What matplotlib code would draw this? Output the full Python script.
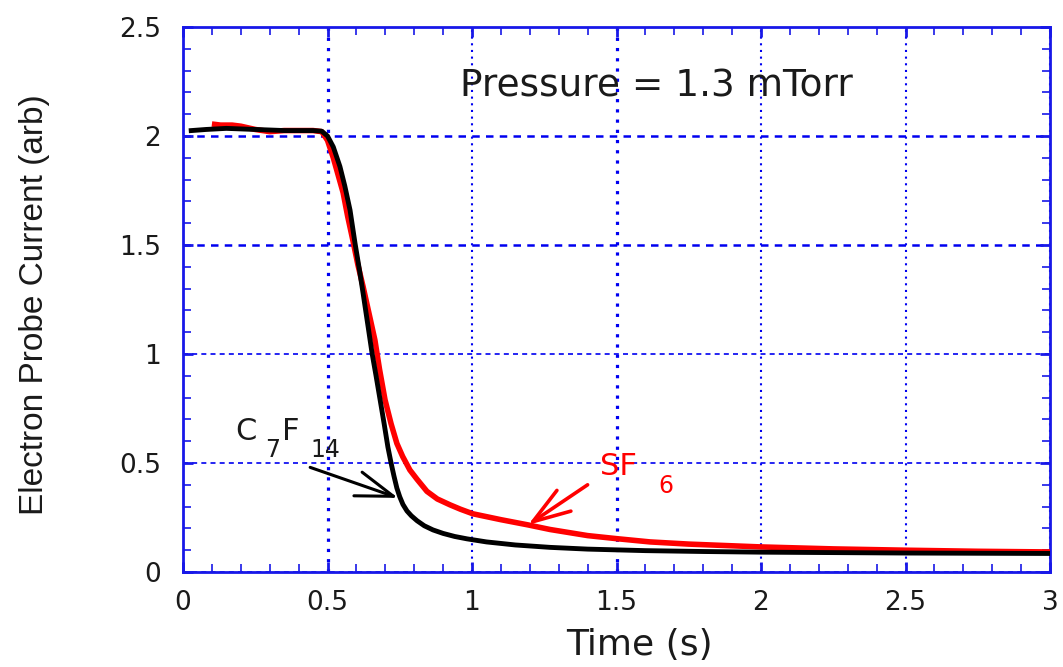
import matplotlib
matplotlib.use('Agg')
import matplotlib.pyplot as plt
from matplotlib import font_manager
from matplotlib.ticker import MultipleLocator, FixedLocator, FixedFormatter

# ---------------- data ----------------
t_c7f14 = [0.02, 0.08, 0.15, 0.25, 0.35, 0.45, 0.48, 0.50, 0.52, 0.543, 0.56,
           0.578, 0.595, 0.61, 0.623, 0.64, 0.654, 0.668, 0.682, 0.696, 0.709,
           0.72, 0.73, 0.74, 0.75, 0.761, 0.775, 0.79, 0.81, 0.835, 0.865,
           0.90, 0.94, 0.983, 1.05, 1.15, 1.27, 1.4, 1.6, 1.8, 2.0, 2.5, 3.0]
i_c7f14 = [2.024, 2.03, 2.035, 2.03, 2.025, 2.025, 2.022, 2.0, 1.95, 1.86, 1.77,
           1.66, 1.51, 1.39, 1.28, 1.13, 1.005, 0.90, 0.79, 0.68, 0.573,
           0.50, 0.44, 0.385, 0.345, 0.31, 0.28, 0.258, 0.235, 0.212, 0.193,
           0.177, 0.163, 0.152, 0.138, 0.124, 0.113, 0.105, 0.098, 0.094, 0.091,
           0.087, 0.085]

t_sf6 = [0.10, 0.13, 0.17, 0.20, 0.25, 0.30, 0.35, 0.40, 0.45, 0.48, 0.50,
         0.52, 0.537, 0.554, 0.57, 0.588, 0.605, 0.623, 0.643, 0.664, 0.68,
         0.699, 0.72, 0.74, 0.76, 0.785, 0.81, 0.844, 0.88, 0.924, 0.96,
         1.003, 1.1, 1.194, 1.27, 1.4, 1.5, 1.616, 1.75, 2.0, 2.25, 2.5,
         2.75, 3.0]
i_sf6 = [2.055, 2.05, 2.05, 2.045, 2.03, 2.02, 2.025, 2.025, 2.025, 2.02, 1.98,
         1.90, 1.82, 1.74, 1.63, 1.52, 1.41, 1.31, 1.19, 1.064, 0.93,
         0.79, 0.68, 0.59, 0.53, 0.468, 0.425, 0.37, 0.335, 0.308, 0.288,
         0.267, 0.24, 0.216, 0.195, 0.167, 0.153, 0.138, 0.128, 0.115, 0.106,
         0.10, 0.095, 0.092]

x_ticks = [0, 0.5, 1, 1.5, 2, 2.5, 3]
x_tick_labels = ['0', '0.5', '1', '1.5', '2', '2.5', '3']
y_ticks = [0, 0.5, 1, 1.5, 2, 2.5]
y_tick_labels = ['0', '0.5', '1', '1.5', '2', '2.5']

x_label = 'Time (s)'
y_label = 'Electron Probe Current (arb)'
title_note = 'Pressure = 1.3 mTorr'

# ---------------- style ----------------
names = {f.name for f in font_manager.fontManager.ttflist}
if 'Liberation Sans Narrow' in names:
    ylab_family, ylab_size = 'Liberation Sans Narrow', 29
else:
    ylab_family, ylab_size = 'Liberation Sans', 24

plt.rcParams['font.family'] = ['DejaVu Sans']
blue = '#1818e8'
grid_blue = '#0000f0'
txt = '#1a1a1a'

fig = plt.figure(figsize=(10.63, 6.67), dpi=100)
ax = fig.add_axes([183 / 1063, 95 / 667, 867 / 1063, 545 / 667])

ax.plot(t_sf6, i_sf6, color='#ff0000', lw=4.0, solid_capstyle='butt', zorder=3)
ax.plot(t_c7f14, i_c7f14, color='black', lw=3.5, solid_capstyle='butt', zorder=4)

ax.set_xlim(0, 3)
ax.set_ylim(0, 2.5)
ax.xaxis.set_major_locator(FixedLocator(x_ticks))
ax.xaxis.set_major_formatter(FixedFormatter(x_tick_labels))
ax.yaxis.set_major_locator(FixedLocator(y_ticks))
ax.yaxis.set_major_formatter(FixedFormatter(y_tick_labels))
ax.xaxis.set_minor_locator(MultipleLocator(0.1))
ax.yaxis.set_minor_locator(MultipleLocator(0.1))

ax.tick_params(which='both', direction='in', top=True, right=True,
               color=blue, labelcolor=txt, labelsize=19)
ax.tick_params(which='major', length=7, width=2.0)
ax.tick_params(which='minor', length=6, width=1.2)
ax.tick_params(axis='y', which='major', pad=16)
ax.tick_params(axis='x', which='major', pad=13)

for sp in ax.spines.values():
    sp.set_color(blue)
    sp.set_linewidth(2.0)

# grid
ax.grid(True, axis='x', which='major', color=grid_blue, lw=1.5, ls=(0, (1, 2.2)))
ax.grid(True, axis='y', which='major', color=grid_blue, lw=1.2, ls=(0, (3, 2.5)))
for val, gl in zip(x_ticks, ax.xaxis.get_gridlines()):
    if val in (0.5, 1.5):
        gl.set_linewidth(2.3)
for val, gl in zip(y_ticks, ax.yaxis.get_gridlines()):
    if val in (1.5, 2):
        gl.set_linewidth(1.8)

ax.set_xlabel(x_label, fontsize=26, color=txt)
ax.xaxis.set_label_coords(0.526, -0.103)
ax.set_ylabel(y_label, fontsize=ylab_size, family=ylab_family, color=txt)
ax.yaxis.set_label_coords(-0.153, 0.49)

ax.text(1.637, 2.179, title_note, fontsize=27, color=txt, ha='center', va='baseline')

# C7F14 label
ax.text(0.18, 0.606, 'C', fontsize=22, color=txt, ha='left', va='baseline')
ax.text(0.284, 0.528, '7', fontsize=17, color=txt, ha='left', va='baseline')
ax.text(0.342, 0.606, 'F', fontsize=22, color=txt, ha='left', va='baseline')
ax.text(0.442, 0.528, '14', fontsize=17, color=txt, ha='left', va='baseline')
ax.annotate('', xy=(0.744, 0.34), xytext=(0.44, 0.48),
            arrowprops=dict(arrowstyle='->,head_length=1.35,head_width=0.45',
                            lw=2.2, color='black', shrinkA=0, shrinkB=0,
                            mutation_scale=20), zorder=5)

# SF6 label
ax.text(1.443, 0.445, 'SF', fontsize=22, color='#ff0000', ha='left', va='baseline')
ax.text(1.644, 0.362, '6', fontsize=17, color='#ff0000', ha='left', va='baseline')
ax.annotate('', xy=(1.194, 0.216), xytext=(1.40, 0.40),
            arrowprops=dict(arrowstyle='->,head_length=1.35,head_width=0.45',
                            lw=2.6, color='#ff0000', shrinkA=0, shrinkB=0,
                            mutation_scale=20), zorder=5)

fig.savefig('out.png', dpi=100)
